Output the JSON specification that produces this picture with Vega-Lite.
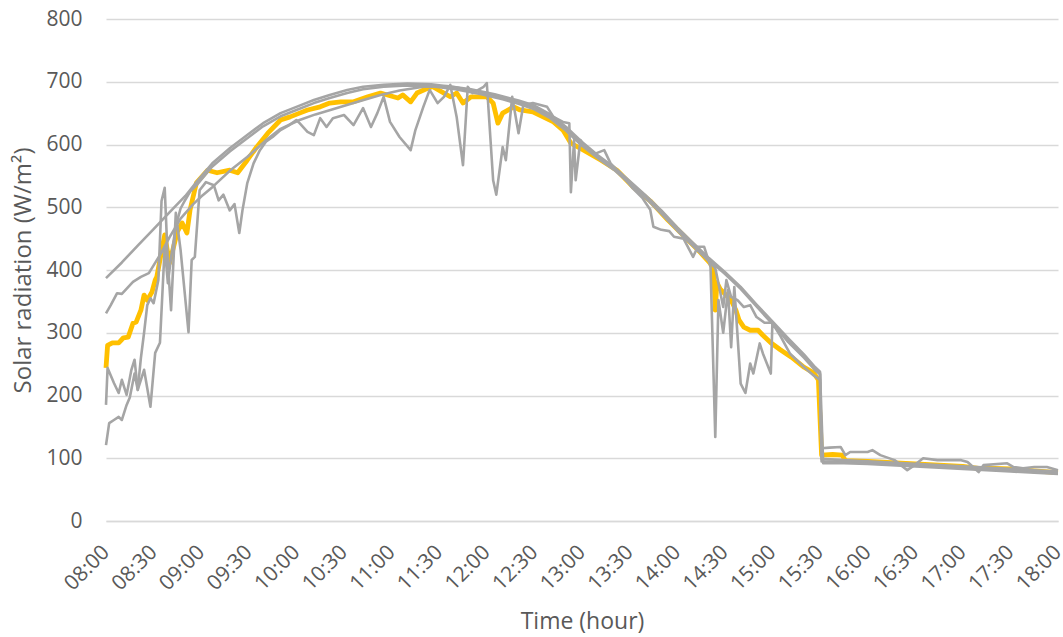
{
"$schema":"https://vega.github.io/schema/vega-lite/v6.json",
"autosize":{"type":"none"},
"padding":{"left":106,"top":19,"right":5,"bottom":116},
"width":952,"height":502,
"background":"white",
"config":{"view":{"stroke":null}},
"datasets":{"rad":[
{"s":"Y","m":480,"v":244},{"s":"Y","m":481,"v":280},{"s":"Y","m":484,"v":284},{"s":"Y","m":488,"v":284},{"s":"Y","m":491,"v":292},{"s":"Y","m":494,"v":293},{"s":"Y","m":497,"v":315},{"s":"Y","m":499,"v":317},{"s":"Y","m":502,"v":336},{"s":"Y","m":504,"v":360},{"s":"Y","m":506,"v":352},{"s":"Y","m":509,"v":365},{"s":"Y","m":511,"v":384},{"s":"Y","m":512,"v":389},{"s":"Y","m":517,"v":456},{"s":"Y","m":520,"v":411},{"s":"Y","m":525,"v":461},{"s":"Y","m":528,"v":475},{"s":"Y","m":531,"v":459},{"s":"Y","m":533,"v":496},{"s":"Y","m":537,"v":539},{"s":"Y","m":544,"v":559},{"s":"Y","m":550,"v":555},{"s":"Y","m":558,"v":559},{"s":"Y","m":563,"v":555},{"s":"Y","m":569,"v":575},{"s":"Y","m":575,"v":596},{"s":"Y","m":582,"v":618},{"s":"Y","m":590,"v":639},{"s":"Y","m":596,"v":644},{"s":"Y","m":602,"v":650},{"s":"Y","m":607,"v":655},{"s":"Y","m":615,"v":660},{"s":"Y","m":621,"v":666},{"s":"Y","m":628,"v":668},{"s":"Y","m":636,"v":668},{"s":"Y","m":645,"v":676},{"s":"Y","m":653,"v":682},{"s":"Y","m":664,"v":674},{"s":"Y","m":667,"v":679},{"s":"Y","m":672,"v":668},{"s":"Y","m":676,"v":682},{"s":"Y","m":683,"v":690},{"s":"Y","m":686,"v":692},{"s":"Y","m":693,"v":682},{"s":"Y","m":697,"v":676},{"s":"Y","m":701,"v":682},{"s":"Y","m":705,"v":666},{"s":"Y","m":710,"v":676},{"s":"Y","m":720,"v":676},{"s":"Y","m":724,"v":666},{"s":"Y","m":727,"v":634},{"s":"Y","m":730,"v":650},{"s":"Y","m":737,"v":660},{"s":"Y","m":741,"v":655},{"s":"Y","m":749,"v":652},{"s":"Y","m":762,"v":636},{"s":"Y","m":768,"v":623},{"s":"Y","m":773,"v":602},{"s":"Y","m":781,"v":591},{"s":"Y","m":792,"v":575},{"s":"Y","m":802,"v":559},{"s":"Y","m":812,"v":533},{"s":"Y","m":823,"v":510},{"s":"Y","m":834,"v":480},{"s":"Y","m":844,"v":455},{"s":"Y","m":855,"v":427},{"s":"Y","m":861,"v":410},{"s":"Y","m":863,"v":400},{"s":"Y","m":864,"v":336},{"s":"Y","m":865,"v":380},{"s":"Y","m":867,"v":370},{"s":"Y","m":872,"v":357},{"s":"Y","m":874,"v":352},{"s":"Y","m":877,"v":336},{"s":"Y","m":879,"v":320},{"s":"Y","m":882,"v":309},{"s":"Y","m":886,"v":304},{"s":"Y","m":891,"v":304},{"s":"Y","m":894,"v":296},{"s":"Y","m":899,"v":284},{"s":"Y","m":905,"v":273},{"s":"Y","m":912,"v":261},{"s":"Y","m":920,"v":245},{"s":"Y","m":926,"v":236},{"s":"Y","m":929,"v":225},{"s":"Y","m":931,"v":105},{"s":"Y","m":938,"v":106},{"s":"Y","m":944,"v":105},{"s":"Y","m":946,"v":96},{"s":"Y","m":960,"v":95},{"s":"Y","m":975,"v":93},{"s":"Y","m":990,"v":91},{"s":"Y","m":1005,"v":89},{"s":"Y","m":1020,"v":87},{"s":"Y","m":1030,"v":84},{"s":"Y","m":1040,"v":84},{"s":"Y","m":1050,"v":83},{"s":"Y","m":1065,"v":80},{"s":"Y","m":1080,"v":77},

{"s":"G1","m":480,"v":387},{"s":"G1","m":490,"v":412},{"s":"G1","m":500,"v":439},{"s":"G1","m":510,"v":465},{"s":"G1","m":520,"v":492},{"s":"G1","m":530,"v":518},{"s":"G1","m":537,"v":540},{"s":"G1","m":547,"v":570},{"s":"G1","m":558,"v":594},{"s":"G1","m":569,"v":615},{"s":"G1","m":579,"v":634},{"s":"G1","m":590,"v":650},{"s":"G1","m":600,"v":660},{"s":"G1","m":611,"v":671},{"s":"G1","m":621,"v":679},{"s":"G1","m":632,"v":687},{"s":"G1","m":642,"v":692},{"s":"G1","m":655,"v":695},{"s":"G1","m":670,"v":697},{"s":"G1","m":685,"v":696},{"s":"G1","m":700,"v":691},{"s":"G1","m":715,"v":684},{"s":"G1","m":730,"v":675},{"s":"G1","m":740,"v":668},{"s":"G1","m":750,"v":659},{"s":"G1","m":760,"v":645},{"s":"G1","m":770,"v":625},{"s":"G1","m":780,"v":601},{"s":"G1","m":790,"v":581},{"s":"G1","m":800,"v":562},{"s":"G1","m":810,"v":540},{"s":"G1","m":820,"v":517},{"s":"G1","m":830,"v":493},{"s":"G1","m":840,"v":465},{"s":"G1","m":850,"v":440},{"s":"G1","m":860,"v":416},{"s":"G1","m":870,"v":394},{"s":"G1","m":880,"v":370},{"s":"G1","m":890,"v":342},{"s":"G1","m":900,"v":314},{"s":"G1","m":910,"v":288},{"s":"G1","m":920,"v":262},{"s":"G1","m":927,"v":243},{"s":"G1","m":930,"v":236},{"s":"G1","m":931,"v":95},{"s":"G1","m":945,"v":94},{"s":"G1","m":960,"v":93},{"s":"G1","m":990,"v":89},{"s":"G1","m":1020,"v":85},{"s":"G1","m":1050,"v":81},{"s":"G1","m":1080,"v":77},

{"s":"G2","m":480,"v":331},{"s":"G2","m":483,"v":344},{"s":"G2","m":487,"v":363},{"s":"G2","m":490,"v":362},{"s":"G2","m":497,"v":381},{"s":"G2","m":502,"v":389},{"s":"G2","m":507,"v":395},{"s":"G2","m":515,"v":428},{"s":"G2","m":520,"v":452},{"s":"G2","m":527,"v":482},{"s":"G2","m":535,"v":505},{"s":"G2","m":540,"v":517},{"s":"G2","m":547,"v":532},{"s":"G2","m":558,"v":558},{"s":"G2","m":569,"v":580},{"s":"G2","m":580,"v":605},{"s":"G2","m":590,"v":625},{"s":"G2","m":602,"v":639},{"s":"G2","m":612,"v":648},{"s":"G2","m":623,"v":656},{"s":"G2","m":636,"v":666},{"s":"G2","m":653,"v":679},{"s":"G2","m":665,"v":686},{"s":"G2","m":680,"v":692},{"s":"G2","m":695,"v":693},{"s":"G2","m":710,"v":688},{"s":"G2","m":725,"v":680},{"s":"G2","m":740,"v":670},{"s":"G2","m":750,"v":662},{"s":"G2","m":760,"v":648},{"s":"G2","m":770,"v":628},{"s":"G2","m":780,"v":604},{"s":"G2","m":790,"v":583},{"s":"G2","m":800,"v":564},{"s":"G2","m":810,"v":542},{"s":"G2","m":820,"v":519},{"s":"G2","m":830,"v":495},{"s":"G2","m":840,"v":468},{"s":"G2","m":850,"v":443},{"s":"G2","m":860,"v":419},{"s":"G2","m":870,"v":397},{"s":"G2","m":880,"v":373},{"s":"G2","m":890,"v":345},{"s":"G2","m":900,"v":318},{"s":"G2","m":910,"v":291},{"s":"G2","m":920,"v":265},{"s":"G2","m":927,"v":245},{"s":"G2","m":930,"v":238},{"s":"G2","m":932,"v":92},{"s":"G2","m":945,"v":92},{"s":"G2","m":960,"v":91},{"s":"G2","m":975,"v":89},{"s":"G2","m":990,"v":87},{"s":"G2","m":1005,"v":85},{"s":"G2","m":1020,"v":83},{"s":"G2","m":1035,"v":81},{"s":"G2","m":1050,"v":79},{"s":"G2","m":1065,"v":77},{"s":"G2","m":1080,"v":75},

{"s":"C","m":480,"v":185},{"s":"C","m":481,"v":244},{"s":"C","m":485,"v":220},{"s":"C","m":488,"v":204},{"s":"C","m":490,"v":225},{"s":"C","m":493,"v":201},{"s":"C","m":496,"v":241},{"s":"C","m":498,"v":257},{"s":"C","m":500,"v":209},{"s":"C","m":504,"v":241},{"s":"C","m":508,"v":182},{"s":"C","m":511,"v":268},{"s":"C","m":514,"v":284},{"s":"C","m":517,"v":437},{"s":"C","m":519,"v":379},{"s":"C","m":521,"v":420},{"s":"C","m":524,"v":470},{"s":"C","m":527,"v":498},{"s":"C","m":530,"v":512},{"s":"C","m":533,"v":525},{"s":"C","m":537,"v":535},{"s":"C","m":547,"v":565},{"s":"C","m":558,"v":589},{"s":"C","m":569,"v":610},{"s":"C","m":579,"v":629},{"s":"C","m":590,"v":645},{"s":"C","m":600,"v":655},{"s":"C","m":611,"v":666},{"s":"C","m":621,"v":674},{"s":"C","m":632,"v":682},{"s":"C","m":642,"v":688},{"s":"C","m":655,"v":692},{"s":"C","m":670,"v":694},{"s":"C","m":685,"v":693},{"s":"C","m":700,"v":688},{"s":"C","m":715,"v":681},{"s":"C","m":730,"v":672},{"s":"C","m":740,"v":665},{"s":"C","m":750,"v":656},{"s":"C","m":760,"v":642},{"s":"C","m":770,"v":622},{"s":"C","m":780,"v":598},{"s":"C","m":790,"v":578},{"s":"C","m":800,"v":560},{"s":"C","m":810,"v":538},{"s":"C","m":820,"v":515},{"s":"C","m":830,"v":490},{"s":"C","m":840,"v":463},{"s":"C","m":850,"v":438},{"s":"C","m":860,"v":414},{"s":"C","m":864,"v":403},{"s":"C","m":866,"v":379},{"s":"C","m":869,"v":341},{"s":"C","m":871,"v":384},{"s":"C","m":874,"v":357},{"s":"C","m":878,"v":352},{"s":"C","m":882,"v":341},{"s":"C","m":886,"v":344},{"s":"C","m":890,"v":325},{"s":"C","m":895,"v":316},{"s":"C","m":900,"v":316},{"s":"C","m":905,"v":300},{"s":"C","m":910,"v":285},{"s":"C","m":920,"v":260},{"s":"C","m":927,"v":240},{"s":"C","m":930,"v":234},{"s":"C","m":931,"v":99},{"s":"C","m":945,"v":97},{"s":"C","m":960,"v":95},{"s":"C","m":990,"v":91},{"s":"C","m":1020,"v":87},{"s":"C","m":1050,"v":83},{"s":"C","m":1080,"v":79},

{"s":"D","m":480,"v":121},{"s":"D","m":482,"v":156},{"s":"D","m":485,"v":161},{"s":"D","m":488,"v":166},{"s":"D","m":490,"v":161},{"s":"D","m":493,"v":185},{"s":"D","m":495,"v":197},{"s":"D","m":498,"v":235},{"s":"D","m":500,"v":209},{"s":"D","m":502,"v":260},{"s":"D","m":504,"v":300},{"s":"D","m":506,"v":344},{"s":"D","m":508,"v":355},{"s":"D","m":510,"v":347},{"s":"D","m":513,"v":384},{"s":"D","m":515,"v":510},{"s":"D","m":517,"v":531},{"s":"D","m":519,"v":411},{"s":"D","m":521,"v":336},{"s":"D","m":524,"v":491},{"s":"D","m":527,"v":432},{"s":"D","m":532,"v":301},{"s":"D","m":534,"v":416},{"s":"D","m":536,"v":421},{"s":"D","m":539,"v":527},{"s":"D","m":543,"v":540},{"s":"D","m":548,"v":535},{"s":"D","m":551,"v":511},{"s":"D","m":554,"v":520},{"s":"D","m":558,"v":495},{"s":"D","m":561,"v":505},{"s":"D","m":564,"v":459},{"s":"D","m":566,"v":495},{"s":"D","m":569,"v":538},{"s":"D","m":573,"v":570},{"s":"D","m":577,"v":591},{"s":"D","m":581,"v":605},{"s":"D","m":585,"v":612},{"s":"D","m":590,"v":623},{"s":"D","m":595,"v":630},{"s":"D","m":600,"v":639},{"s":"D","m":602,"v":634},{"s":"D","m":607,"v":620},{"s":"D","m":611,"v":615},{"s":"D","m":615,"v":642},{"s":"D","m":619,"v":628},{"s":"D","m":623,"v":642},{"s":"D","m":630,"v":647},{"s":"D","m":636,"v":631},{"s":"D","m":642,"v":658},{"s":"D","m":647,"v":628},{"s":"D","m":651,"v":650},{"s":"D","m":655,"v":676},{"s":"D","m":659,"v":636},{"s":"D","m":665,"v":612},{"s":"D","m":672,"v":591},{"s":"D","m":675,"v":623},{"s":"D","m":680,"v":660},{"s":"D","m":684,"v":687},{"s":"D","m":689,"v":666},{"s":"D","m":693,"v":676},{"s":"D","m":697,"v":695},{"s":"D","m":701,"v":644},{"s":"D","m":705,"v":567},{"s":"D","m":708,"v":692},{"s":"D","m":711,"v":682},{"s":"D","m":718,"v":692},{"s":"D","m":720,"v":698},{"s":"D","m":724,"v":543},{"s":"D","m":726,"v":520},{"s":"D","m":730,"v":596},{"s":"D","m":732,"v":575},{"s":"D","m":736,"v":676},{"s":"D","m":740,"v":618},{"s":"D","m":743,"v":663},{"s":"D","m":749,"v":666},{"s":"D","m":758,"v":660},{"s":"D","m":762,"v":644},{"s":"D","m":768,"v":636},{"s":"D","m":772,"v":634},{"s":"D","m":773,"v":524},{"s":"D","m":775,"v":607},{"s":"D","m":776,"v":543},{"s":"D","m":779,"v":607},{"s":"D","m":782,"v":596},{"s":"D","m":788,"v":585},{"s":"D","m":794,"v":591},{"s":"D","m":798,"v":570},{"s":"D","m":805,"v":552},{"s":"D","m":812,"v":530},{"s":"D","m":818,"v":515},{"s":"D","m":823,"v":496},{"s":"D","m":825,"v":469},{"s":"D","m":830,"v":464},{"s":"D","m":835,"v":462},{"s":"D","m":838,"v":453},{"s":"D","m":844,"v":450},{"s":"D","m":850,"v":421},{"s":"D","m":853,"v":437},{"s":"D","m":857,"v":437},{"s":"D","m":861,"v":405},{"s":"D","m":864,"v":134},{"s":"D","m":866,"v":352},{"s":"D","m":869,"v":300},{"s":"D","m":872,"v":368},{"s":"D","m":874,"v":277},{"s":"D","m":876,"v":373},{"s":"D","m":880,"v":219},{"s":"D","m":883,"v":204},{"s":"D","m":886,"v":251},{"s":"D","m":888,"v":235},{"s":"D","m":892,"v":283},{"s":"D","m":894,"v":267},{"s":"D","m":899,"v":235},{"s":"D","m":900,"v":315},{"s":"D","m":905,"v":295},{"s":"D","m":911,"v":267},{"s":"D","m":920,"v":245},{"s":"D","m":926,"v":232},{"s":"D","m":930,"v":225},{"s":"D","m":931,"v":116},{"s":"D","m":936,"v":117},{"s":"D","m":943,"v":118},{"s":"D","m":946,"v":105},{"s":"D","m":949,"v":110},{"s":"D","m":960,"v":110},{"s":"D","m":963,"v":113},{"s":"D","m":968,"v":105},{"s":"D","m":977,"v":97},{"s":"D","m":985,"v":81},{"s":"D","m":988,"v":86},{"s":"D","m":995,"v":100},{"s":"D","m":1004,"v":97},{"s":"D","m":1019,"v":97},{"s":"D","m":1023,"v":94},{"s":"D","m":1030,"v":78},{"s":"D","m":1033,"v":89},{"s":"D","m":1048,"v":92},{"s":"D","m":1052,"v":86},{"s":"D","m":1058,"v":84},{"s":"D","m":1065,"v":86},{"s":"D","m":1073,"v":86},{"s":"D","m":1080,"v":81}
]},
"data":{"name":"rad"},
"encoding":{
"x":{"field":"m","type":"quantitative","scale":{"domain":[480,1080],"nice":false,"zero":false},
"axis":{"title":"Time (hour)","values":[480,510,540,570,600,630,660,690,720,750,780,810,840,870,900,930,960,990,1020,1050,1080],"labelExpr":"(datum.value < 600 ? '0' : '') + floor(datum.value / 60) + ':' + (datum.value % 60 == 0 ? '00' : '30')","labelAngle":-45,"labelAlign":"right","labelBaseline":"top","labelPadding":20,"labelOffset":-8,"labelFont":"Open Sans","labelFontSize":21,"labelColor":"#595959","labelOverlap":false,"ticks":false,"grid":false,"domain":true,"domainColor":"#d9d9d9","domainWidth":1.5,"titleFont":"Open Sans","titleFontSize":23,"titleFontWeight":"normal","titleColor":"#595959","titleX":476,"titleY":89}},
"y":{"field":"v","type":"quantitative","scale":{"domain":[0,800],"nice":false},
"axis":{"title":"Solar radiation (W/m²)","values":[0,100,200,300,400,500,600,700,800],"labelPadding":24,"labelFont":"Open Sans","labelFontSize":21,"labelColor":"#595959","ticks":false,"domain":false,"grid":true,"gridColor":"#d9d9d9","gridWidth":1.5,"titleFont":"Open Sans","titleFontSize":24,"titleFontWeight":"normal","titleColor":"#595959","titleX":-71,"titleY":251,"titleAngle":-90}}
},
"layer":[
{"transform":[{"filter":"datum.s == 'Y'"}],"mark":{"type":"line","color":"#FFC000","strokeWidth":4.8,"strokeJoin":"round"}},
{"transform":[{"filter":"datum.s != 'Y'"}],"mark":{"type":"line","color":"#A5A5A5","strokeWidth":2.6,"strokeJoin":"round"},"encoding":{"detail":{"field":"s","type":"nominal"}}}
]
}
